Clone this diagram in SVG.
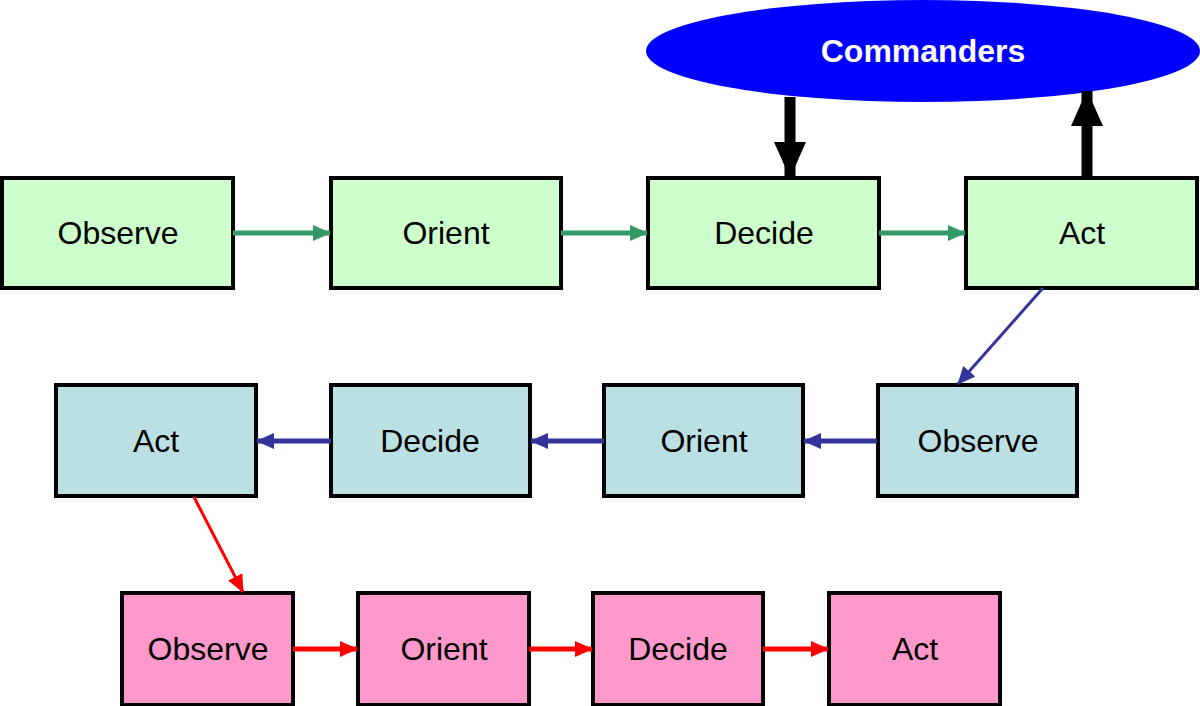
<svg xmlns="http://www.w3.org/2000/svg" width="1200" height="706" viewBox="0 0 1200 706">
<style>
.box{stroke:#000;stroke-width:4}
.g{fill:#CCFFCC}.b{fill:#BBE0E3}.p{fill:#FF99CC}
.t{font-family:"Liberation Sans",Arial,sans-serif;font-size:32px;fill:#000;text-anchor:middle;dominant-baseline:central}
.cg{stroke:#339966;stroke-width:5;fill:none}
.cb{stroke:#333399;stroke-width:5;fill:none}
.cr{stroke:#FF0000;stroke-width:4;fill:none}
</style>
<defs>
<marker id="ag" markerUnits="userSpaceOnUse" markerWidth="18" markerHeight="16" refX="17" refY="8" orient="auto"><path d="M0,0 L18,8 L0,16 Z" fill="#339966"/></marker>
<marker id="ab" markerUnits="userSpaceOnUse" markerWidth="18" markerHeight="16" refX="17" refY="8" orient="auto"><path d="M0,0 L18,8 L0,16 Z" fill="#333399"/></marker>
<marker id="ar" markerUnits="userSpaceOnUse" markerWidth="18" markerHeight="16" refX="17" refY="8" orient="auto"><path d="M0,0 L18,8 L0,16 Z" fill="#FF0000"/></marker>
<marker id="ak" markerUnits="userSpaceOnUse" markerWidth="36" markerHeight="32" refX="35" refY="16" orient="auto"><path d="M0,0 L36,16 L0,32 Z" fill="#000"/></marker>
</defs>
<g id="commanders">
<ellipse cx="923" cy="51" rx="277" ry="51" fill="#0000FF"/>
<text x="923" y="51" class="t" style="fill:#fff;font-weight:bold">Commanders</text>
</g>
<g id="g-observe"><rect class="box g" x="2" y="178" width="231" height="110"/><text class="t" x="118" y="233">Observe</text></g>
<g id="g-orient"><rect class="box g" x="331" y="178" width="230" height="110"/><text class="t" x="446" y="233">Orient</text></g>
<g id="g-decide"><rect class="box g" x="648" y="178" width="231" height="110"/><text class="t" x="764" y="233">Decide</text></g>
<g id="g-act"><rect class="box g" x="966" y="178" width="231" height="110"/><text class="t" x="1082" y="233">Act</text></g>
<g id="b-act"><rect class="box b" x="56" y="385" width="200" height="111"/><text class="t" x="156" y="441">Act</text></g>
<g id="b-decide"><rect class="box b" x="331" y="385" width="199" height="111"/><text class="t" x="430" y="441">Decide</text></g>
<g id="b-orient"><rect class="box b" x="604" y="385" width="199" height="111"/><text class="t" x="704" y="441">Orient</text></g>
<g id="b-observe"><rect class="box b" x="878" y="385" width="199" height="111"/><text class="t" x="978" y="441">Observe</text></g>
<g id="p-observe"><rect class="box p" x="122" y="593" width="171" height="112"/><text class="t" x="208" y="649">Observe</text></g>
<g id="p-orient"><rect class="box p" x="358" y="593" width="171" height="112"/><text class="t" x="444" y="649">Orient</text></g>
<g id="p-decide"><rect class="box p" x="593" y="593" width="170" height="112"/><text class="t" x="678" y="649">Decide</text></g>
<g id="p-act"><rect class="box p" x="829" y="593" width="171" height="112"/><text class="t" x="915" y="649">Act</text></g>
<g id="connectors">
<line class="cg" x1="233" y1="233" x2="330" y2="233" marker-end="url(#ag)"/>
<line class="cg" x1="561" y1="233" x2="647" y2="233" marker-end="url(#ag)"/>
<line class="cg" x1="879" y1="233" x2="965" y2="233" marker-end="url(#ag)"/>
<line stroke="#000" stroke-width="11" x1="790" y1="97" x2="790" y2="177" marker-end="url(#ak)"/>
<line stroke="#000" stroke-width="11" x1="1087" y1="177" x2="1087" y2="91" marker-end="url(#ak)"/>
<line class="cb" style="stroke-width:3" x1="1043" y1="288" x2="958" y2="384" marker-end="url(#ab)"/>
<line class="cb" x1="877" y1="441" x2="804" y2="441" marker-end="url(#ab)"/>
<line class="cb" x1="604" y1="441" x2="531" y2="441" marker-end="url(#ab)"/>
<line class="cb" x1="331" y1="441" x2="257" y2="441" marker-end="url(#ab)"/>
<line class="cr" style="stroke-width:3" x1="194" y1="497" x2="243" y2="592" marker-end="url(#ar)"/>
<line class="cr" style="stroke-width:5" x1="293" y1="649" x2="357" y2="649" marker-end="url(#ar)"/>
<line class="cr" style="stroke-width:5" x1="529" y1="649" x2="592" y2="649" marker-end="url(#ar)"/>
<line class="cr" style="stroke-width:5" x1="763" y1="649" x2="828" y2="649" marker-end="url(#ar)"/>
</g>
</svg>
